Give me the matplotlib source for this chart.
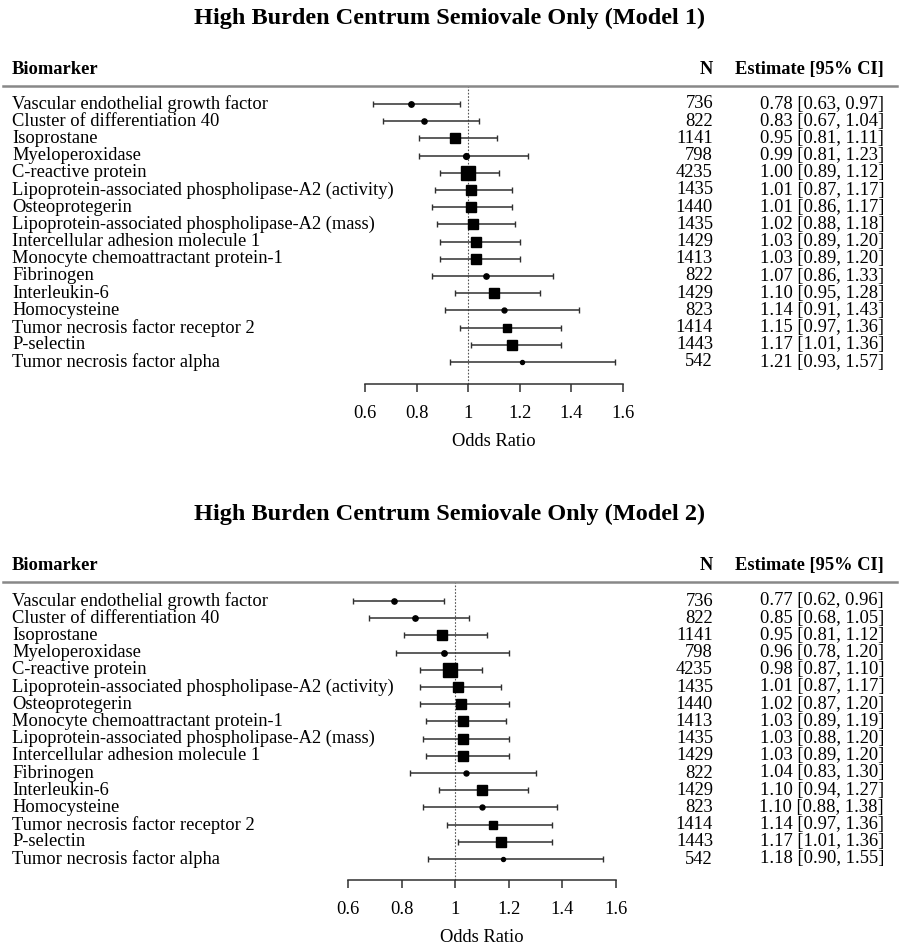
import matplotlib
matplotlib.use("Agg")
import matplotlib.pyplot as plt
import matplotlib.transforms as mtransforms
import numpy as np

plt.rcParams["font.family"] = ["Liberation Serif", "DejaVu Serif"]

# ---- data ----
names1 = [
    "Vascular endothelial growth factor",
    "Cluster of differentiation 40",
    "Isoprostane",
    "Myeloperoxidase",
    "C-reactive protein",
    "Lipoprotein-associated phospholipase-A2 (activity)",
    "Osteoprotegerin",
    "Lipoprotein-associated phospholipase-A2 (mass)",
    "Intercellular adhesion molecule 1",
    "Monocyte chemoattractant protein-1",
    "Fibrinogen",
    "Interleukin-6",
    "Homocysteine",
    "Tumor necrosis factor receptor 2",
    "P-selectin",
    "Tumor necrosis factor alpha",
]
n1 = [736, 822, 1141, 798, 4235, 1435, 1440, 1435, 1429, 1413, 822, 1429, 823, 1414, 1443, 542]
est1 = [0.78, 0.83, 0.95, 0.99, 1.00, 1.01, 1.01, 1.02, 1.03, 1.03, 1.07, 1.10, 1.14, 1.15, 1.17, 1.21]
lo1 = [0.63, 0.67, 0.81, 0.81, 0.89, 0.87, 0.86, 0.88, 0.89, 0.89, 0.86, 0.95, 0.91, 0.97, 1.01, 0.93]
hi1 = [0.97, 1.04, 1.11, 1.23, 1.12, 1.17, 1.17, 1.18, 1.20, 1.20, 1.33, 1.28, 1.43, 1.36, 1.36, 1.57]

names2 = [
    "Vascular endothelial growth factor",
    "Cluster of differentiation 40",
    "Isoprostane",
    "Myeloperoxidase",
    "C-reactive protein",
    "Lipoprotein-associated phospholipase-A2 (activity)",
    "Osteoprotegerin",
    "Monocyte chemoattractant protein-1",
    "Lipoprotein-associated phospholipase-A2 (mass)",
    "Intercellular adhesion molecule 1",
    "Fibrinogen",
    "Interleukin-6",
    "Homocysteine",
    "Tumor necrosis factor receptor 2",
    "P-selectin",
    "Tumor necrosis factor alpha",
]
n2 = [736, 822, 1141, 798, 4235, 1435, 1440, 1413, 1435, 1429, 822, 1429, 823, 1414, 1443, 542]
est2 = [0.77, 0.85, 0.95, 0.96, 0.98, 1.01, 1.02, 1.03, 1.03, 1.03, 1.04, 1.10, 1.10, 1.14, 1.17, 1.18]
lo2 = [0.62, 0.68, 0.81, 0.78, 0.87, 0.87, 0.87, 0.89, 0.88, 0.89, 0.83, 0.94, 0.88, 0.97, 1.01, 0.90]
hi2 = [0.96, 1.05, 1.12, 1.20, 1.10, 1.17, 1.20, 1.19, 1.20, 1.20, 1.30, 1.27, 1.38, 1.36, 1.36, 1.55]

ticks = [0.6, 0.8, 1, 1.2, 1.4, 1.6]
tick_labels = ["0.6", "0.8", "1", "1.2", "1.4", "1.6"]

W, H = 900, 948
FS = 13.3


def forest(fig, title, names, n, est, lo, hi, x0, x1, y_sep, y_row1, y_rowN, y_axis, y_title):
    # x0..x1 (px) maps 0.6..1.6; rows 1..N sit at y_row1..y_rowN (px from top)
    nrow = len(names)
    step = (y_rowN - y_row1) / (nrow - 1)
    ax = fig.add_axes([x0 / W, 1 - y_axis / H, (x1 - x0) / W, (y_axis - y_sep) / H])
    rows = np.arange(1, nrow + 1)
    y_top = 1 - (y_row1 - y_sep) / step
    ax.set_xlim(0.6, 1.6)
    ax.set_ylim(nrow + (y_axis - y_rowN) / step, y_top)

    ax.axvline(1, color="#555555", lw=0.8, ls=(0, (1.5, 1.5)), zorder=1)

    est = np.asarray(est)
    lo = np.asarray(lo)
    hi = np.asarray(hi)
    se = (np.log(hi) - np.log(lo)) / 3.92
    side_px = np.clip(1.2 / se - 5.5, 4.0, None)
    for y, e, l, h, s in zip(rows, est, lo, hi, side_px):
        ax.errorbar([e], [y], xerr=[[e - l], [h - e]], fmt="none",
                    ecolor="#303030", elinewidth=1.1, capsize=2.5, capthick=1.0, zorder=2)
        ax.plot([e], [y], marker="s" if s >= 7 else "o", ms=s * 0.72,
                color="black", mec="black", ls="none", zorder=3)

    for side in ["top", "right", "left"]:
        ax.spines[side].set_visible(False)
    ax.spines["bottom"].set_color("#303030")
    ax.spines["bottom"].set_linewidth(1.1)
    ax.set_yticks([])
    ax.set_xticks(ticks)
    ax.set_xticklabels(tick_labels, fontsize=FS)
    ax.tick_params(axis="x", direction="out", length=6, width=1.1, color="#303030", pad=9)
    ax.set_xlabel("Odds Ratio", fontsize=FS, labelpad=8)

    tr = mtransforms.blended_transform_factory(fig.transFigure, ax.transData)
    for y, name, k, e, l, h in zip(rows, names, n, est, lo, hi):
        ax.text(12 / W, y, name, transform=tr, ha="left", va="center", fontsize=FS)
        ax.text(713 / W, y, f"{k}", transform=tr, ha="right", va="center", fontsize=FS)
        ax.text(884 / W, y, f"{e:.2f} [{l:.2f}, {h:.2f}]", transform=tr,
                ha="right", va="center", fontsize=FS)

    # header row and rule
    y_head = y_top - 16.5 / step
    ax.text(12 / W, y_head, "Biomarker", transform=tr, ha="left", va="center",
            fontsize=FS, fontweight="bold")
    ax.text(713 / W, y_head, "N", transform=tr, ha="right", va="center",
            fontsize=FS, fontweight="bold")
    ax.text(884 / W, y_head, "Estimate [95% CI]", transform=tr, ha="right", va="center",
            fontsize=FS, fontweight="bold")
    ax.plot([3 / W, 897 / W], [y_top, y_top], transform=tr, color="#888888",
            lw=1.8, clip_on=False)

    fig.text(0.5, 1 - y_title / H, title, ha="center", va="center",
             fontsize=17.5, fontweight="bold")
    return ax


fig = plt.figure(figsize=(W / 100, H / 100), dpi=100)
forest(fig, "High Burden Centrum Semiovale Only (Model 1)", names1, n1, est1, lo1, hi1,
       x0=365, x1=623, y_sep=86, y_row1=104, y_rowN=362, y_axis=384, y_title=18)
forest(fig, "High Burden Centrum Semiovale Only (Model 2)", names2, n2, est2, lo2, hi2,
       x0=348, x1=616, y_sep=582, y_row1=601, y_rowN=859, y_axis=880, y_title=514)
fig.savefig("out.png", dpi=100)
